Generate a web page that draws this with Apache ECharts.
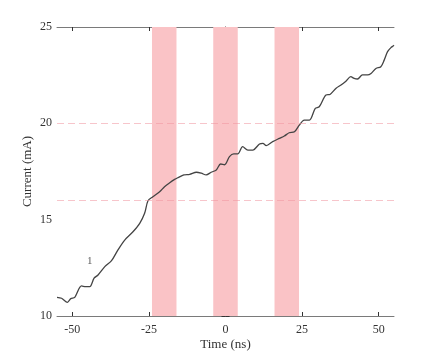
<!DOCTYPE html>
<html lang="en">

<head>
    <meta charset="UTF-8">
    <title>Current vs Time</title>
    <script src="https://cdn.jsdelivr.net/npm/echarts@6/dist/echarts.min.js"></script>
</head>
<style>
    html, body { margin: 0; padding: 0; background: #fff; }
    .box { width: 436px; height: 356px; }
</style>

<body>
    <div class="box" id="myChart"></div>
    <script>
        // 数据
        const time = [-55, -53.5, -51.6, -50.5, -49.2, -47.0, -45.6, -44.3, -42.9, -41.6, -39.4, -37.2, -35.1, -32.9,
            -30.2, -28.0, -26.4, -25.3, -23.7, -21.5, -19.9, -18.2, -16.6, -15.5, -13.6, -11.7, -9.5, -7.9, -6.3, -4.7,
            -3.0, -1.6, -0.3, 1.3, 2.7, 4.0, 5.6, 7.3, 8.9, 11.1, 12.2, 13.3, 15.4, 17.6, 19.2, 20.8, 22.5, 24.1, 25.7,
            27.4, 29.3, 30.6, 32.8, 34.1, 36.1, 37.7, 39.3, 40.9, 42.0, 43.1, 44.7, 46.4, 47.5, 49.1, 50.7, 51.8, 52.9,
            54.0, 54.7, 55];
        const current = [10.97, 10.92, 10.71, 10.90, 10.97, 11.56, 11.52, 11.52, 11.96, 12.13, 12.56, 12.87, 13.43, 13.94,
            14.37, 14.81, 15.33, 15.98, 16.19, 16.45, 16.71, 16.92, 17.09, 17.18, 17.32, 17.35, 17.46, 17.41, 17.32, 17.46,
            17.58, 17.89, 17.85, 18.27, 18.41, 18.41, 18.79, 18.61, 18.61, 18.93, 18.96, 18.84, 19.05, 19.22, 19.34, 19.51,
            19.56, 19.91, 20.17, 20.17, 20.78, 20.86, 21.47, 21.50, 21.82, 21.99, 22.19, 22.42, 22.33, 22.30, 22.51, 22.51,
            22.59, 22.85, 22.94, 23.28, 23.72, 23.93, 24.01, 24.05];
        const xTicks = [-50, -25, 0, 25, 50];
        const bands = [[-24, -16], [-4, 4], [16, 24]];
        const refLines = [16, 20];
        const note = { text: '1', x: -44.3, y: 12.85 };

        const font = 'Liberation Serif, DejaVu Serif, serif';
        const axisColor = '#7a7a7a';

        let myEchart = echarts.init(document.getElementById('myChart'));
        let option = {
            animation: false,
            grid: {
                left: 57,
                right: 42,
                top: 27,
                bottom: 40
            },
            xAxis: [{
                type: 'value',
                min: -55,
                max: 55,
                name: 'Time (ns)',
                nameLocation: 'middle',
                nameGap: 22,
                nameMoveOverlap: false,
                nameTextStyle: { fontFamily: font, fontSize: 13, color: '#333' },
                axisLine: { lineStyle: { color: axisColor } },
                axisTick: { inside: true, length: 4, customValues: xTicks, lineStyle: { color: '#333' } },
                axisLabel: { customValues: xTicks, fontFamily: font, fontSize: 12, color: '#333', margin: 8 },
                splitLine: { show: false }
            }, {
                type: 'value',
                position: 'top',
                min: -55,
                max: 55,
                axisLine: { lineStyle: { color: axisColor } },
                axisTick: { inside: true, length: 4, customValues: xTicks, lineStyle: { color: '#333' } },
                axisLabel: { show: false },
                splitLine: { show: false }
            }],
            yAxis: [{
                type: 'value',
                min: 10,
                max: 25,
                interval: 5,
                name: 'Current (mA)',
                nameLocation: 'middle',
                nameGap: 23,
                nameMoveOverlap: false,
                nameTextStyle: { fontFamily: font, fontSize: 13, color: '#333' },
                axisLine: { show: true, lineStyle: { color: axisColor } },
                axisTick: { show: true, inside: true, length: 4, lineStyle: { color: '#333' } },
                axisLabel: { fontFamily: font, fontSize: 12, color: '#333', margin: 5 },
                splitLine: { show: false }
            }, {
                type: 'value',
                position: 'right',
                min: 10,
                max: 25,
                interval: 5,
                axisLine: { show: true, lineStyle: { color: axisColor } },
                axisTick: { show: true, inside: true, length: 4, lineStyle: { color: '#333' } },
                axisLabel: { show: false },
                splitLine: { show: false }
            }],
            series: [{
                type: 'line',
                data: time.map((t, i) => [t, current[i]]),
                smooth: 0.3,
                showSymbol: false,
                lineStyle: { color: '#444', width: 1.3 },
                z: 3,
                markArea: {
                    silent: true,
                    itemStyle: { color: '#fac3c6' },
                    data: bands.map(b => [{ xAxis: b[0] }, { xAxis: b[1] }])
                },
                markLine: {
                    silent: true,
                    symbol: 'none',
                    label: { show: false },
                    lineStyle: { color: 'rgba(240,150,160,0.55)', type: [7, 4], width: 1 },
                    data: refLines.map(v => ({ yAxis: v }))
                }
            }, {
                type: 'scatter',
                data: [[note.x, note.y]],
                symbolSize: 0,
                label: {
                    show: true,
                    position: 'inside',
                    formatter: note.text,
                    fontFamily: font,
                    fontSize: 11,
                    color: '#333'
                },
                silent: true
            }]
        };
        myEchart.setOption(option, true);
    </script>
</body>

</html>
